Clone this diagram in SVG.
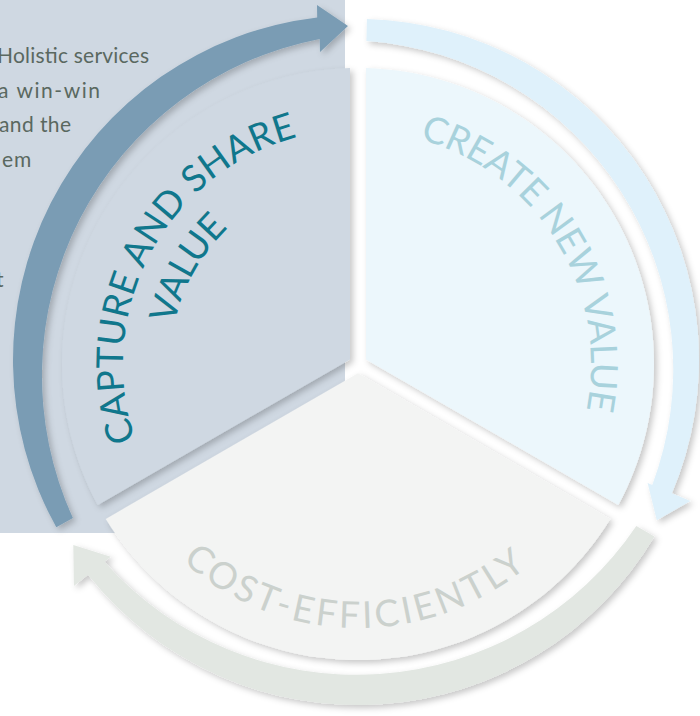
<svg xmlns="http://www.w3.org/2000/svg" width="700" height="716" viewBox="0 0 700 716">
<style>
.para{font-family:"Lato","Open Sans","Liberation Sans",sans-serif;font-size:21px;fill:#5a6860}
.arcT{font-family:"Lato","Open Sans","Liberation Sans",sans-serif;font-size:37px}
.tCap{fill:#10778c}
.tCre{fill:#a8d2dc}
.tCost{fill:#cbd1cd}
.sh{filter:url(#sh)}
</style>
<defs>
<filter id="sh" x="-10%" y="-10%" width="130%" height="130%">
<feDropShadow dx="3" dy="3" stdDeviation="3" flood-color="#000" flood-opacity="0.22"/>
</filter>
<path id="pCap1" d="M 358 599 A 235 235 0 0 1 358 129"/>
<path id="pCap2" d="M 358 552 A 188 188 0 0 1 358 176"/>
<path id="pCre" d="M 125 364 A 233 233 0 0 1 591 364 A 233 233 0 0 1 358 597"/>
<path id="pCost" d="M 94 364 A 264 264 0 0 0 622 364"/>
</defs>
<rect width="700" height="716" fill="#ffffff"/>
<g id="background">
<rect x="0" y="0" width="345" height="533" fill="#cfd8e2"/>
<text class="para" x="-3" y="63" textLength="152">Holistic services</text>
<text class="para" x="-2" y="98" textLength="102">a win-win</text>
<text class="para" x="-1" y="132" textLength="72">and the</text>
<text class="para" x="2" y="167" letter-spacing="1">em</text>
<text class="para" x="-4" y="287">t</text>
</g>
<g id="node-capture">
<path class="sh" d="M 350 359.4 L 350 68.1 A 296 296 0 0 0 97.75 505 Z" fill="#cfd8e2"/>
<text class="arcT tCap"><textPath href="#pCap1" startOffset="65.6%" text-anchor="middle" textLength="385" lengthAdjust="spacing">CAPTURE AND SHARE</textPath></text>
<text class="arcT tCap"><textPath href="#pCap2" startOffset="66.3%" text-anchor="middle" textLength="112" lengthAdjust="spacing">VALUE</textPath></text>
</g>
<g id="node-create">
<path class="sh" d="M 366 359.4 L 366 68.1 A 296 296 0 0 1 618.25 505 Z" fill="#ecf7fc"/>
<text class="arcT tCre"><textPath href="#pCre" startOffset="54.96%" text-anchor="middle" textLength="350" lengthAdjust="spacing">CREATE NEW VALUE</textPath></text>
</g>
<g id="node-cost">
<path class="sh" d="M 358 373.2 L 610.25 518.9 A 296 296 0 0 1 105.75 518.9 Z" fill="#f3f4f3"/>
<text class="arcT tCost"><textPath href="#pCost" startOffset="49.45%" text-anchor="middle" textLength="375" lengthAdjust="spacing">COST-EFFICIENTLY</textPath></text>
</g>
<g id="connectors">
<path class="sh" fill="#7a9cb4" d="M 56.3 527.3 A 345 345 0 0 1 317.2 17.4 L 317 5 L 348 26 L 320 52 L 319.7 38.9 A 343 343 0 0 0 72.9 518 Z"/>
<path class="sh" fill="#dff1fb" d="M 366.9 19.1 A 341 341 0 0 1 671.9 493.2 L 690.4 501.1 L 656.8 520.2 L 647.6 482.9 L 652.3 484.9 A 329 329 0 0 0 366.4 41.1 Z"/>
<path class="sh" fill="#e2e7e2" d="M 654.4 536.6 A 345 345 0 0 1 88 574.8 L 73.9 586 L 73.3 544.9 L 110.7 556.7 L 104.4 561.8 A 337.4 337.4 0 0 0 636.3 525.9 Z"/>
</g>
</svg>
